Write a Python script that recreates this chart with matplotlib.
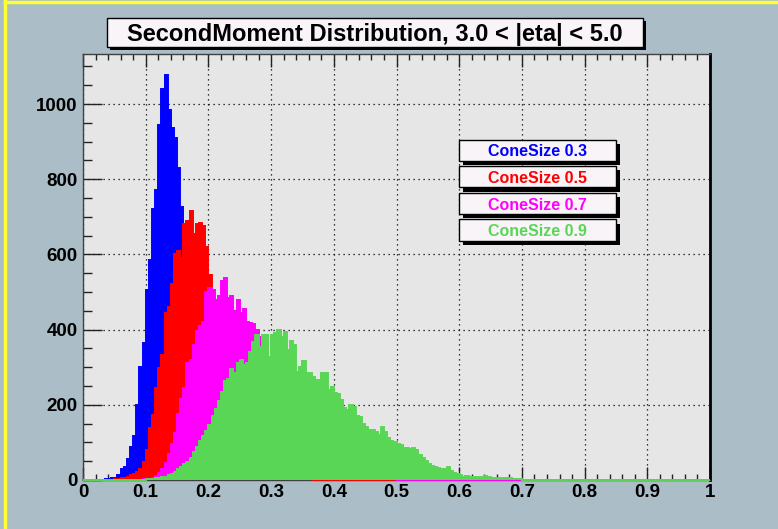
import numpy as np
import matplotlib
matplotlib.use("Agg")
import matplotlib.pyplot as plt
from matplotlib.lines import Line2D
from matplotlib.patches import Rectangle

# histogram binning (0..1, 200 bins)
n_bins = 200
x_lo, x_hi = 0.0, 1.0

# bin contents, starting at the given bin index
blue_first = 7
blue_counts = [2, 3, 4, 6, 12, 28, 34, 57, 87, 116, 200, 300, 365, 505, 585, 720, 770, 944,
               1040, 1077, 985, 935, 910, 830, 727, 650, 560, 480, 400, 330, 270, 215, 170,
               135, 105, 82, 64, 50, 38, 29, 22, 17, 13, 10, 8, 6, 5, 4, 3, 2, 2, 1, 1]

red_first = 9
red_counts = [1, 2, 2, 4, 6, 9, 12, 16, 22, 30, 49, 80, 137, 173, 244, 297, 332, 445, 460,
              520, 600, 610, 590, 680, 690, 715, 655, 680, 683, 675, 620, 545, 480, 420, 370,
              320, 280, 240, 205, 175, 150, 125, 105, 90, 75, 63, 52, 44, 36, 30, 25, 20, 17,
              14, 11, 9, 7, 6, 5, 4, 3, 3, 2, 2, 1, 1, 1]

magenta_first = 17
magenta_counts = [1, 1, 2, 2, 3, 6, 10, 18, 30, 45, 70, 95, 124, 175, 215, 245, 310, 320, 360,
                  395, 410, 420, 500, 510, 505, 480, 490, 530, 537, 485, 490, 450, 480, 445,
                  455, 420, 418, 414, 400, 380, 360, 345, 320, 305, 290, 275, 260, 245, 230,
                  215, 200, 185, 172, 160, 148, 136, 125, 115, 105, 96, 88, 80, 72, 65, 58,
                  52, 46, 41, 36, 32, 28, 24, 21, 18, 15, 13, 11, 9, 7, 6, 4, 3, 2]

green_first = 18
green_counts = [1, 1, 2, 2, 3, 4, 5, 7, 9, 12, 16, 22, 28, 34, 42, 48, 58, 75, 88, 104, 118,
                130, 145, 170, 190, 210, 235, 262, 268, 295, 285, 310, 318, 305, 310, 341,
                368, 385, 355, 385, 385, 328, 385, 390, 399, 380, 394, 346, 370, 359, 288,
                300, 317, 284, 285, 275, 266, 266, 284, 284, 239, 248, 232, 230, 212, 192,
                185, 200, 195, 170, 168, 150, 140, 132, 132, 128, 120, 141, 127, 111, 103,
                100, 96, 94, 86, 86, 83, 86, 80, 66, 58, 50, 43, 38, 34, 31, 28, 29, 35, 25,
                19, 17, 12, 9, 11, 9, 9, 7, 7, 7, 11, 9, 6, 4, 4, 4, 4, 5, 5, 3, 2, 2, 1]

labels = ["ConeSize 0.3", "ConeSize 0.5", "ConeSize 0.7", "ConeSize 0.9"]
colors = ["#0000ff", "#ff0000", "#ff00ff", "#5ad656"]
title = "SecondMoment Distribution, 3.0 < |eta| < 5.0"

x_ticks = [0, 0.1, 0.2, 0.3, 0.4, 0.5, 0.6, 0.7, 0.8, 0.9, 1]
x_tick_labels = ["0", "0.1", "0.2", "0.3", "0.4", "0.5", "0.6", "0.7", "0.8", "0.9", "1"]
y_ticks = [0, 200, 400, 600, 800, 1000]
y_max = 1133


def full_hist(first, counts):
    h = np.zeros(n_bins)
    h[first:first + len(counts)] = counts
    return h


plt.rcParams["font.family"] = ["Liberation Sans", "DejaVu Sans"]
plt.rcParams["font.weight"] = "bold"

W, H = 778, 529
fig = plt.figure(figsize=(W / 100, H / 100), dpi=100, facecolor="#abbdc6")

ax = fig.add_axes([83 / W, 49 / H, 627 / W, 426 / H], facecolor="#e6e6e6")
edges = np.linspace(x_lo, x_hi, n_bins + 1)
hists = [full_hist(blue_first, blue_counts), full_hist(red_first, red_counts),
         full_hist(magenta_first, magenta_counts), full_hist(green_first, green_counts)]
for i, (h, c) in enumerate(zip(hists, colors)):
    ax.stairs(h, edges, fill=True, color=c, lw=0, zorder=2 + i)
    ax.stairs(h, edges, color=c, lw=1.4, zorder=2 + i, clip_on=False)

ax.set_xlim(x_lo, x_hi)
ax.set_ylim(0, y_max)
ax.set_axisbelow(True)
ax.grid(True, which="major", color="black", linestyle=(0, (1, 3)), lw=0.9)

ax.set_xticks(x_ticks)
ax.set_xticklabels(x_tick_labels)
ax.set_xticks(np.arange(0, 1.0001, 0.02), minor=True)
ax.set_yticks(y_ticks)
ax.set_yticks(np.arange(0, y_max, 50), minor=True)
ax.tick_params(axis="x", which="major", direction="in", length=9.2, width=1, top=True,
               labelsize=13.5, pad=3, color="#222222")
ax.tick_params(axis="x", which="minor", direction="in", length=4.6, width=1, top=True,
               color="#222222")
ax.tick_params(axis="y", which="major", direction="in", length=13.5, width=1,
               labelsize=13.5, pad=4, color="#222222")
ax.tick_params(axis="y", which="minor", direction="in", length=6.8, width=1, color="#222222")

for side in ["left", "top", "bottom"]:
    ax.spines[side].set_color("#404040")
    ax.spines[side].set_linewidth(1)
ax.spines["right"].set_color("black")
ax.spines["right"].set_linewidth(2)


def shadow_box(left, top, width, height, shadow, text, color, size):
    # pixel coordinates from the top-left corner of the canvas
    fig.add_artist(Rectangle(((left + shadow) / W, 1 - (top + height + shadow) / H),
                             width / W, height / H, transform=fig.transFigure,
                             facecolor="black", edgecolor="none"))
    fig.add_artist(Rectangle((left / W, 1 - (top + height) / H), width / W, height / H,
                             transform=fig.transFigure, facecolor="#f8f4f8",
                             edgecolor="black", lw=1))
    fig.text((left + width / 2) / W, 1 - (top + height / 2) / H, text, color=color,
             fontsize=size, fontweight="bold", ha="center", va="center_baseline")


shadow_box(107, 18, 536, 29, 3, title, "black", 17)
for i, (lab, c) in enumerate(zip(labels, colors)):
    shadow_box(459, 140 + 26.5 * i, 157, 21, 4, lab, c, 11.5)

# yellow highlight of the canvas edge
fig.add_artist(Line2D([5 / W, 5 / W], [0, 1], color="#ffff33", lw=2.5, transform=fig.transFigure))
fig.add_artist(Line2D([5 / W, 1], [1 - 2 / H, 1 - 2 / H], color="#ffff33", lw=2.5,
                      transform=fig.transFigure))

fig.savefig("out.png", dpi=100, facecolor=fig.get_facecolor())
